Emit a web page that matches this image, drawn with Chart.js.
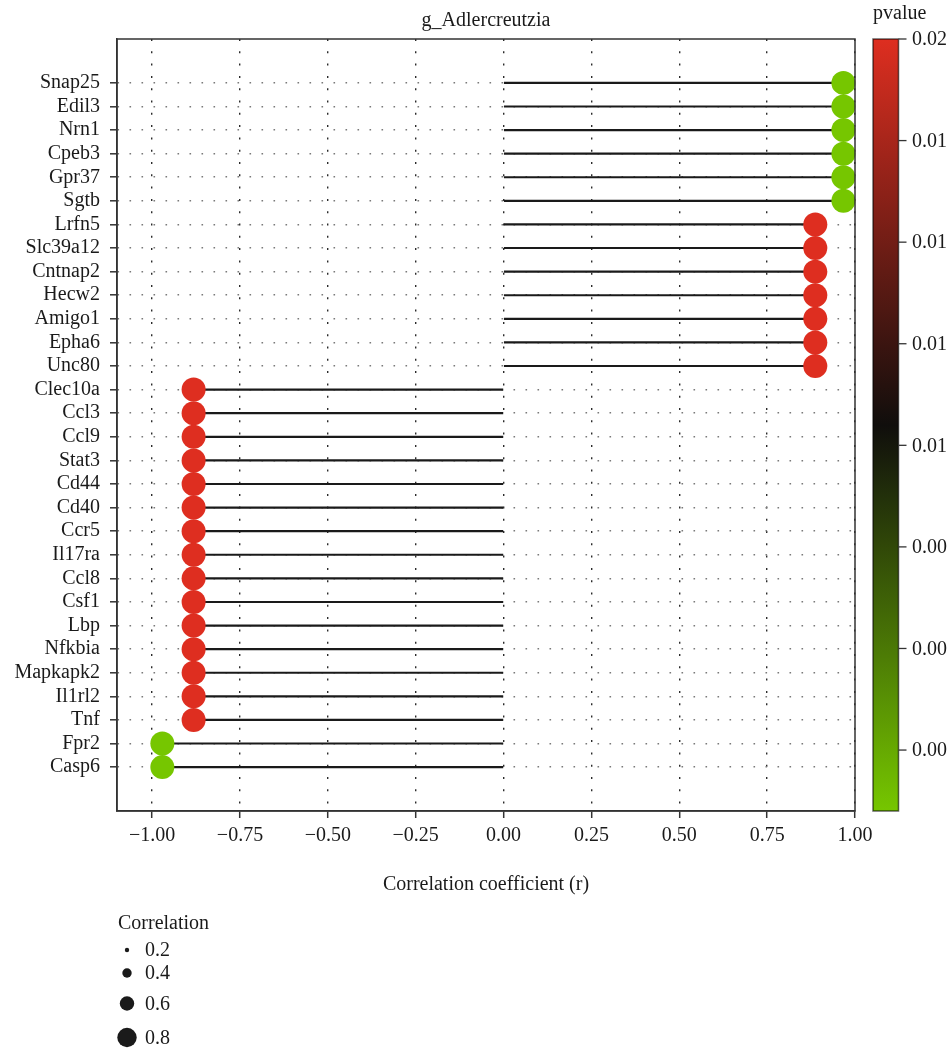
<!DOCTYPE html>
<html>
<head>
<meta charset="utf-8">
<title>g_Adlercreutzia</title>
<script src="https://cdn.jsdelivr.net/npm/chart.js@4.4.1/dist/chart.umd.min.js"></script>
<style>
  html, body { margin: 0; padding: 0; background: #fff; }
  #wrap { width: 951px; height: 1049px; }
</style>
</head>
<body>
<div id="wrap"><canvas id="lollipop" width="951" height="1049"></canvas></div>
<script>
// genes, top to bottom
const genes = [
  'Snap25', 'Edil3', 'Nrn1', 'Cpeb3', 'Gpr37', 'Sgtb',
  'Lrfn5', 'Slc39a12', 'Cntnap2', 'Hecw2', 'Amigo1', 'Epha6', 'Unc80',
  'Clec10a', 'Ccl3', 'Ccl9', 'Stat3', 'Cd44', 'Cd40', 'Ccr5', 'Il17ra',
  'Ccl8', 'Csf1', 'Lbp', 'Nfkbia', 'Mapkapk2', 'Il1rl2', 'Tnf',
  'Fpr2', 'Casp6'
];
const correlations = [
  0.967, 0.967, 0.967, 0.967, 0.967, 0.967,
  0.887, 0.887, 0.887, 0.887, 0.887, 0.887, 0.887,
  -0.882, -0.882, -0.882, -0.882, -0.882, -0.882, -0.882, -0.882,
  -0.882, -0.882, -0.882, -0.882, -0.882, -0.882, -0.882,
  -0.971, -0.971
];
const pvalues = [
  0.0005, 0.0005, 0.0005, 0.0005, 0.0005, 0.0005,
  0.0195, 0.0195, 0.0195, 0.0195, 0.0195, 0.0195, 0.0195,
  0.0195, 0.0195, 0.0195, 0.0195, 0.0195, 0.0195, 0.0195, 0.0195,
  0.0195, 0.0195, 0.0195, 0.0195, 0.0195, 0.0195, 0.0195,
  0.0005, 0.0005
];
const xTicks = [-1, -0.75, -0.5, -0.25, 0, 0.25, 0.5, 0.75, 1];
const pRange = [0.0005, 0.0195];
const pTickValues = [0.0195, 0.0170, 0.0145, 0.0120, 0.0095, 0.0070, 0.0045, 0.0020];
const pTickLabels = ['0.02', '0.01', '0.01', '0.01', '0.01', '0.00', '0.00', '0.00'];
const sizeBreaks = [0.2, 0.4, 0.6, 0.8];

const chartTitle = 'g_Adlercreutzia';
const xTitle = 'Correlation coefficient (r)';
const FONT = "'Liberation Serif', 'Times New Roman', serif";
const INK = '#1a1a1a';

// green (low p) -> black -> red (high p)
const lowCol = [118, 198, 0], midCol = [16, 14, 12], highCol = [222, 46, 32];
function pColor(p) {
  const t = Math.min(1, Math.max(0, (p - pRange[0]) / (pRange[1] - pRange[0])));
  const [a, b, u] = t < 0.5 ? [lowCol, midCol, t / 0.5] : [midCol, highCol, (t - 0.5) / 0.5];
  const c = a.map((v, k) => Math.round(v + (b[k] - v) * u));
  return 'rgb(' + c.join(',') + ')';
}
function legendRadius(v) {
  return 12.5 * v - 0.3;
}

const decor = {
  id: 'decor',
  afterDraw(chart) {
    const { ctx, chartArea: a } = chart;
    ctx.save();
    // panel frame
    ctx.strokeStyle = '#333';
    ctx.lineWidth = 1.5;
    ctx.strokeRect(a.left, a.top, a.right - a.left, a.bottom - a.top);

    ctx.fillStyle = INK;
    ctx.font = '20px ' + FONT;
    ctx.textAlign = 'center';
    ctx.textBaseline = 'alphabetic';
    ctx.fillText(chartTitle, (a.left + a.right) / 2, 26);
    ctx.fillText(xTitle, (a.left + a.right) / 2, 890);

    // colour bar
    const bx = 873, bw = 25.5, top = a.top, bot = a.bottom, h = bot - top;
    const grad = ctx.createLinearGradient(0, bot, 0, top);
    for (let i = 0; i <= 20; i++) {
      const t = i / 20;
      grad.addColorStop(t, pColor(pRange[0] + t * (pRange[1] - pRange[0])));
    }
    ctx.fillStyle = grad;
    ctx.fillRect(bx, top, bw, h);
    ctx.strokeStyle = 'rgba(0,0,0,0.6)';
    ctx.lineWidth = 1.5;
    ctx.strokeRect(bx, top, bw, h);

    ctx.textAlign = 'left';
    ctx.fillStyle = INK;
    ctx.fillText('pvalue', 873, 19);
    ctx.textBaseline = 'middle';
    ctx.strokeStyle = '#333';
    ctx.lineWidth = 1.3;
    pTickValues.forEach((v, i) => {
      const y = bot - (v - pRange[0]) / (pRange[1] - pRange[0]) * h;
      ctx.beginPath();
      ctx.moveTo(bx + bw, y);
      ctx.lineTo(bx + bw + 8, y);
      ctx.stroke();
      ctx.fillText(pTickLabels[i], 912, y + 1);
    });

    // size legend
    ctx.textBaseline = 'alphabetic';
    ctx.fillText('Correlation', 118, 929);
    const legendY = [950, 973, 1003.5, 1037.5];
    ctx.textBaseline = 'middle';
    sizeBreaks.forEach((v, i) => {
      ctx.fillStyle = INK;
      ctx.beginPath();
      ctx.arc(127, legendY[i], legendRadius(v), 0, Math.PI * 2);
      ctx.fill();
      ctx.fillText(v.toFixed(1), 145, legendY[i] + 1);
    });
    ctx.restore();
  }
};

Chart.defaults.font.family = FONT;
Chart.defaults.font.size = 20;
Chart.defaults.color = INK;

new Chart(document.getElementById('lollipop'), {
  type: 'bar',
  data: {
    datasets: [
      {
        type: 'scatter',
        label: 'correlation',
        data: genes.map((g, i) => ({ x: correlations[i], y: i })),
        pointRadius: 12,
        pointHoverRadius: 12,
        pointBackgroundColor: pvalues.map(pColor),
        pointBorderColor: pvalues.map(pColor),
        pointBorderWidth: 0,
        clip: false,
        order: 0
      },
      {
        type: 'bar',
        label: 'stem',
        data: genes.map((g, i) => ({ x: [0, correlations[i]], y: i })),
        backgroundColor: '#1a1a1a',
        barThickness: 1.5,
        borderWidth: 0,
        grouped: false,
        order: 1
      }
    ]
  },
  options: {
    indexAxis: 'y',
    responsive: false,
    animation: false,
    layout: { padding: { top: 39, right: 96, bottom: 178, left: 0 } },
    plugins: { legend: { display: false }, tooltip: { enabled: false }, title: { display: false } },
    scales: {
      x: {
        type: 'linear',
        min: -1.1,
        max: 1.0,
        afterBuildTicks: s => { s.ticks = xTicks.map(v => ({ value: v })); },
        afterFit: s => { s.height = 60; },
        ticks: {
          autoSkip: false,
          maxRotation: 0,
          padding: 6,
          callback: v => (v < 0 ? '\u2212' : '') + Math.abs(v).toFixed(2)
        },
        grid: {
          color: '#2b2b2b', lineWidth: 1.4, borderDash: [2, 10.3],
          tickLength: 7, tickColor: '#333', tickWidth: 1.5, tickBorderDash: []
        },
        border: { display: true, color: '#333', width: 1.5, dash: [2, 10.3] }
      },
      y: {
        type: 'linear',
        reverse: true,
        offset: false,
        min: -1.86,
        max: 30.86,
        afterBuildTicks: s => { s.ticks = genes.map((g, i) => ({ value: i })); },
        afterFit: s => { s.width = 117; },
        ticks: { autoSkip: false, padding: 10, callback: v => genes[v] },
        grid: {
          offset: false, color: '#7a7a7a', lineWidth: 1.6, borderDash: [1.6, 10.4],
          tickLength: 7, tickColor: '#333', tickWidth: 1.5, tickBorderDash: []
        },
        border: { display: true, color: '#333', width: 1.5, dash: [1.6, 10.4] }
      }
    }
  },
  plugins: [decor]
});
</script>
</body>
</html>
